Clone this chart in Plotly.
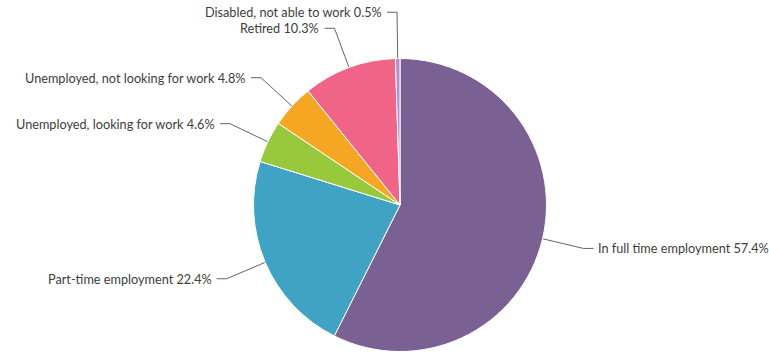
import math
import plotly.graph_objects as go

# Employment status breakdown (percent)
categories = [
    "In full time employment",
    "Part-time employment",
    "Unemployed, looking for work",
    "Unemployed, not looking for work",
    "Retired",
    "Disabled, not able to work",
]
shares = [57.4, 22.4, 4.6, 4.8, 10.3, 0.5]
colors = ["#7B6193", "#40A3C3", "#98C83C", "#F5A623", "#F06488", "#B48FC8"]

W, H = 769, 354
CX, CY, R = 400, 205, 146.5   # pie centre / radius in pixels
LABEL_GAP = 42                  # distance of connector elbow beyond the rim
ARM = 10                        # horizontal arm of connector
MIN_SPACING = 16                # minimal vertical spacing between labels
FONT = dict(family="Lato, 'Open Sans', sans-serif", size=12.7, color="#3d3d3d")

fig = go.Figure()

fig.add_trace(go.Pie(
    labels=categories,
    values=shares,
    sort=False,
    direction="clockwise",
    rotation=0,
    textinfo="none",
    hoverinfo="label+percent",
    marker=dict(colors=colors, line=dict(color="white", width=1)),
    domain=dict(x=[(CX - R) / W, (CX + R) / W],
                y=[(H - CY - R) / H, (H - CY + R) / H]),
    showlegend=False,
))

# Mid angle of each slice, clockwise from 12 o'clock
total = sum(shares)
mids = []
acc = 0.0
for v in shares:
    mids.append(2 * math.pi * (acc + v / 2) / total)
    acc += v

points = []
for name, v, th in zip(categories, shares, mids):
    s, c = math.sin(th), math.cos(th)
    p0 = (CX + R * s, CY - R * c)
    p1 = [CX + (R + LABEL_GAP) * s, CY - (R + LABEL_GAP) * c]
    side = 1 if s >= 0 else -1
    points.append(dict(name=name, v=v, p0=p0, p1=p1, side=side))

# Push labels apart vertically on each side (from the bottom up)
for side in (1, -1):
    grp = sorted([p for p in points if p["side"] == side], key=lambda p: -p["p1"][1])
    for lower, upper in zip(grp, grp[1:]):
        if lower["p1"][1] - upper["p1"][1] < MIN_SPACING:
            upper["p1"][1] = lower["p1"][1] - MIN_SPACING

for p in points:
    x0, y0 = p["p0"]
    x1, y1 = p["p1"]
    x2 = x1 + p["side"] * ARM
    fig.add_trace(go.Scatter(
        x=[x0, x1, x2], y=[y0, y1, y1],
        mode="lines", line=dict(color="#666666", width=1),
        hoverinfo="skip", showlegend=False,
        xaxis="x", yaxis="y",
    ))
    fig.add_annotation(
        x=x2 + p["side"] * 3, y=y1, xref="x", yref="y",
        text=f"{p['name']} {p['v']:.1f}%",
        showarrow=False,
        xanchor="left" if p["side"] > 0 else "right",
        yanchor="middle",
        font=FONT,
    )

fig.update_layout(
    width=W, height=H,
    margin=dict(l=0, r=0, t=0, b=0),
    paper_bgcolor="white",
    plot_bgcolor="rgba(0,0,0,0)",
    xaxis=dict(range=[0, W], visible=False, fixedrange=True),
    yaxis=dict(range=[H, 0], visible=False, fixedrange=True),
)

fig.write_html("out.html")
